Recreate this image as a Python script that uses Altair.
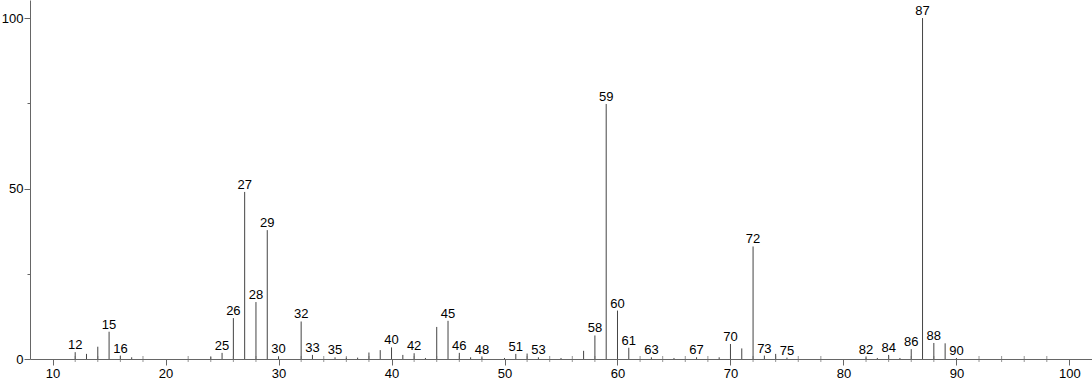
import altair as alt
import pandas as pd

# m/z values and relative intensities
mz = [12, 13, 14, 15, 16, 17, 24, 25, 26, 27, 28, 29, 30, 32, 33, 35, 36, 37,
      38, 39, 40, 41, 42, 43, 44, 45, 46, 47, 48, 50, 51, 52, 53, 55, 57, 58,
      59, 60, 61, 63, 65, 67, 69, 70, 71, 72, 73, 74, 75, 82, 83, 84, 85, 86,
      87, 88, 89, 90]
intensity = [2.0, 1.5, 3.6, 8.0, 1.0, 0.5, 0.6, 1.8, 12.0, 49.0, 16.7, 37.8, 0.8, 11.0, 1.2, 0.5, 0.4, 0.4,
             1.9, 2.6, 3.4, 1.2, 1.7, 0.3, 9.4, 11.2, 1.8, 0.5, 0.5, 0.3, 1.5, 1.6, 0.5, 0.3, 2.4, 6.9,
             74.8, 14.2, 3.3, 0.5, 0.3, 0.5, 0.5, 4.4, 3.1, 33.0, 1.0, 1.5, 0.4, 0.5, 0.3, 1.2, 0.3, 2.9,
             100.0, 4.7, 4.6, 0.3]
labeled = [12, 15, 16, 25, 26, 27, 28, 29, 30, 32, 33, 35, 40, 42, 45, 46, 48, 51,
           53, 58, 59, 60, 61, 63, 67, 70, 72, 73, 75, 82, 84, 86, 87, 88, 90]

x_major = [10, 20, 30, 40, 50, 60, 70, 80, 90, 100]
x_minor = [v for v in range(10, 102, 2) if v % 10 != 0]
y_ticks = [0, 25, 50, 75, 100]

peaks = pd.DataFrame({"mz": mz, "intensity": intensity})
peaks["label"] = [str(m) if m in labeled else "" for m in mz]
minor = pd.DataFrame({"mz": x_minor, "zero": [0] * len(x_minor)})

FONT = "Liberation Sans"

xscale = alt.Scale(domain=[8, 102], nice=False, zero=False)
yscale = alt.Scale(domain=[0, 105.3], nice=False)

xaxis = alt.Axis(values=x_major, title=None, grid=False, domainColor="#666666",
                 tickColor="#666666", tickSize=6, labelFontSize=13, labelFont=FONT,
                 labelColor="#000000", labelPadding=2, labelFlush=False)
yaxis = alt.Axis(values=y_ticks, title=None, grid=False, domainColor="#666666",
                 tickColor="#666666",
                 tickSize={"condition": {"test": "datum.value % 50 === 0", "value": 6}, "value": 3},
                 labelExpr="datum.value % 50 === 0 ? datum.label : ''",
                 labelFontSize=13, labelFont=FONT, labelColor="#000000", labelPadding=1)

sticks = alt.Chart(peaks).mark_rule(color="#444444", strokeWidth=1).encode(
    x=alt.X("mz:Q", scale=xscale, axis=xaxis),
    y=alt.Y("intensity:Q", scale=yscale, axis=yaxis),
    y2=alt.datum(0),
)

labels = alt.Chart(peaks).mark_text(
    baseline="alphabetic", align="center", dy=-3, fontSize=13, font=FONT, color="#000000"
).encode(
    x=alt.X("mz:Q", scale=xscale),
    y=alt.Y("intensity:Q", scale=yscale),
    text="label:N",
)

minor_ticks = alt.Chart(minor).mark_tick(
    orient="vertical", size=6, thickness=1, color="#666666"
).encode(
    x=alt.X("mz:Q", scale=xscale),
    y=alt.Y("zero:Q", scale=yscale),
)

chart = alt.layer(sticks, minor_ticks, labels).properties(
    width=1062, height=359,
    autosize=alt.AutoSizeParams(type="none"),
    padding={"left": 30, "top": 0, "right": 0, "bottom": 25},
    background="white",
).configure_view(stroke=None)

chart.save("out.html", embed_options={"renderer": "svg", "actions": False})
